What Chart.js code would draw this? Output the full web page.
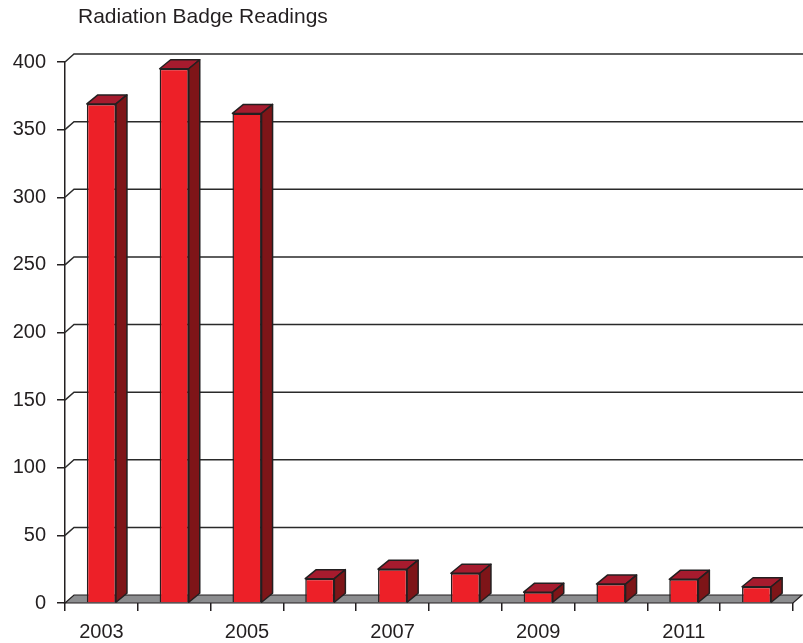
<!DOCTYPE html>
<html>
<head>
<meta charset="utf-8">
<script src="https://cdn.jsdelivr.net/npm/chart.js@4/dist/chart.umd.min.js"></script>
<style>
    html, body { margin: 0; padding: 0; background: #fff; }
    #wrap { width: 803px; height: 643px; position: relative; }
</style>
</head>
<body>
<div id="wrap"><canvas id="badgeChart" width="803" height="643"></canvas></div>
<script>
const chartTitle = 'Radiation Badge Readings';
const years = ['2003', '2004', '2005', '2006', '2007', '2008', '2009', '2010', '2011', '2012'];
const readings = [369, 395, 362, 18, 25, 22, 8, 14, 17.5, 12];
const yTicks = [0, 50, 100, 150, 200, 250, 300, 350, 400];

const INK = '#231f20';
const FONT = '"Liberation Sans", Arial, Helvetica, sans-serif';

// depth of the back wall / floor and of the boxes
const wall = { dx: 9, dy: 8 };
const box = { dx: 11, dy: 9 };

const threeD = {
    id: 'threeD',
    beforeDatasetsDraw(chart) {
        const { ctx, chartArea, scales } = chart;
        const y = scales.y;
        ctx.save();

        // floor
        const base = y.getPixelForValue(0);
        ctx.beginPath();
        ctx.moveTo(chartArea.left, base);
        ctx.lineTo(chartArea.right, base);
        ctx.lineTo(chartArea.right + wall.dx, base - wall.dy);
        ctx.lineTo(chartArea.left + wall.dx, base - wall.dy);
        ctx.closePath();
        ctx.fillStyle = '#8c8d8f';
        ctx.fill();
        ctx.lineWidth = 1.2;
        ctx.strokeStyle = INK;
        ctx.stroke();

        // back grid lines with the little diagonal off the axis
        ctx.lineWidth = 1.5;
        ctx.strokeStyle = '#2a2a2a';
        yTicks.forEach(v => {
            if (v === 0) return;
            const py = y.getPixelForValue(v);
            ctx.beginPath();
            ctx.moveTo(chartArea.left, py);
            ctx.lineTo(chartArea.left + wall.dx, py - wall.dy);
            ctx.lineTo(chart.width, py - wall.dy);
            ctx.stroke();
        });
        ctx.restore();
    },
    afterDatasetsDraw(chart) {
        const { ctx } = chart;
        const meta = chart.getDatasetMeta(0);
        ctx.save();
        ctx.lineWidth = 1.5;
        ctx.strokeStyle = INK;
        ctx.lineJoin = 'round';
        meta.data.forEach(bar => {
            const { x, y, width, base } = bar.getProps(['x', 'y', 'width', 'base'], true);
            const l = x - width / 2;
            const r = x + width / 2;

            // top face
            ctx.beginPath();
            ctx.moveTo(l, y);
            ctx.lineTo(l + box.dx, y - box.dy);
            ctx.lineTo(r + box.dx, y - box.dy);
            ctx.lineTo(r, y);
            ctx.closePath();
            ctx.fillStyle = '#a61b2e';
            ctx.fill();
            ctx.stroke();

            // side face
            ctx.beginPath();
            ctx.moveTo(r, y);
            ctx.lineTo(r + box.dx, y - box.dy);
            ctx.lineTo(r + box.dx, base - box.dy);
            ctx.lineTo(r, base);
            ctx.closePath();
            ctx.fillStyle = '#7e1518';
            ctx.fill();
            ctx.stroke();
        });
        ctx.restore();
    },
    afterDraw(chart) {
        const { ctx, chartArea } = chart;
        ctx.save();
        ctx.fillStyle = INK;
        ctx.font = '21px ' + FONT;
        ctx.textBaseline = 'alphabetic';
        ctx.textAlign = 'left';
        ctx.fillText(chartTitle, chartArea.left + 13, 23);
        ctx.restore();
    }
};

new Chart(document.getElementById('badgeChart').getContext('2d'), {
    type: 'bar',
    data: {
        labels: years,
        datasets: [{
            label: chartTitle,
            data: readings,
            backgroundColor: '#ed2028',
            borderColor: INK,
            borderWidth: 1.5,
            barPercentage: 0.4,
            categoryPercentage: 1.0
        }]
    },
    options: {
        responsive: false,
        animation: false,
        layout: { padding: { top: 62, right: 10, left: 0, bottom: 0 } },
        plugins: {
            legend: { display: false },
            tooltip: { enabled: false }
        },
        scales: {
            y: {
                min: 0,
                max: 400,
                afterFit: scale => { scale.width = 65; },
                afterBuildTicks: scale => { scale.ticks = yTicks.map(v => ({ value: v })); },
                ticks: {
                    color: INK,
                    padding: 11,
                    font: { family: FONT, size: 20 }
                },
                grid: {
                    drawOnChartArea: false,
                    tickLength: 8,
                    color: INK,
                    lineWidth: 1.5
                },
                border: { display: true, color: INK, width: 1.5 }
            },
            x: {
                afterFit: scale => { scale.height = 40; },
                ticks: {
                    color: INK,
                    padding: 9,
                    autoSkip: false,
                    maxRotation: 0,
                    font: { family: FONT, size: 20 },
                    callback: function (value, index) {
                        return index % 2 === 0 ? this.getLabelForValue(value) : '';
                    }
                },
                grid: {
                    offset: true,
                    drawOnChartArea: false,
                    tickLength: 8,
                    color: INK,
                    lineWidth: 1.5
                },
                border: { display: false }
            }
        }
    },
    plugins: [threeD]
});
</script>
</body>
</html>
